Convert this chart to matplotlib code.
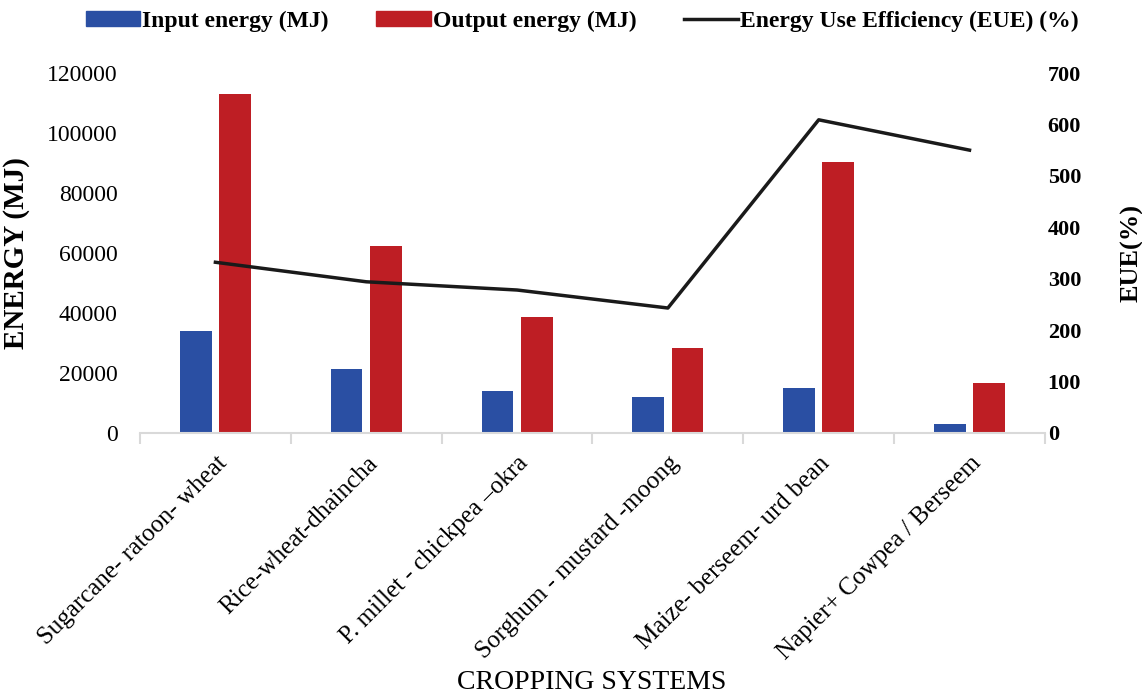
import matplotlib
matplotlib.use("Agg")
import matplotlib.pyplot as plt
import numpy as np
from matplotlib.patches import Patch
from matplotlib.lines import Line2D

# data
systems = ["Sugarcane- ratoon- wheat", "Rice-wheat-dhaincha", "P. millet - chickpea \u2013okra",
           "Sorghum - mustard -moong", "Maize- berseem- urd bean", "Napier+ Cowpea / Berseem"]
input_energy = [34000, 21300, 14000, 12000, 15000, 3000]
output_energy = [113000, 62300, 38700, 28300, 90300, 16700]
eue = [332, 294, 278, 243, 609, 550]

plt.rcParams['font.family'] = ['Liberation Serif', 'DejaVu Serif']

blue = "#2a4fa3"
red = "#be1e24"

fig = plt.figure(figsize=(11.42, 6.98), dpi=100)
ax = fig.add_axes([0.1226, 0.3797, 0.7924, 0.5157])
x = np.arange(len(systems))
w = 0.21
ax.bar(x - 0.13, input_energy, w, color=blue)
ax.bar(x + 0.13, output_energy, w, color=red)
ax.set_xlim(-0.5, len(systems) - 0.5)
ax.set_ylim(0, 120000)
ax.set_yticks(range(0, 120001, 20000))
ax.tick_params(axis='y', length=0, labelsize=17, pad=16)

# category labels, ticks between categories
ax.set_xticks(x)
ax.set_xticklabels(systems, rotation=45, ha='right', rotation_mode='anchor', fontsize=18)
ax.tick_params(axis='x', which='major', length=0, pad=14)
ax.set_xticks(np.arange(-0.5, len(systems)), minor=True)
ax.tick_params(axis='x', which='minor', length=8, color='#d9d9d9', width=1.5)

for s in ['top', 'left', 'right']:
    ax.spines[s].set_visible(False)
ax.spines['bottom'].set_color('#d9d9d9')
ax.spines['bottom'].set_linewidth(1.5)

ax.set_ylabel("ENERGY (MJ)", fontsize=21, fontweight='bold', labelpad=12)
fig.text(0.518, 0.005, "CROPPING SYSTEMS", fontsize=20, ha='center', va='bottom')

ax2 = ax.twinx()
ax2.plot(x, eue, color='#1a1a1a', linewidth=2.5)
ax2.set_ylim(0, 700)
ax2.set_yticks(range(0, 701, 100))
ax2.tick_params(axis='y', length=0, labelsize=16, pad=2)
for lab in ax2.get_yticklabels():
    lab.set_fontweight('bold')
for s in ['top', 'left', 'right', 'bottom']:
    ax2.spines[s].set_visible(False)
ax2.set_ylabel("EUE(%)", fontsize=19, fontweight='bold', labelpad=28)

handles = [Patch(color=blue), Patch(color=red), Line2D([0], [0], color='#1a1a1a', linewidth=2.5)]
labels = ["Input energy (MJ)", "Output energy (MJ)", "Energy Use Efficiency (EUE) (%)"]
fig.legend(handles, labels, loc='upper center', bbox_to_anchor=(0.51, 1.015), ncol=3, frameon=False,
           prop={'weight': 'bold', 'size': 17}, handlelength=2.3, handleheight=0.6,
           columnspacing=2.0, handletextpad=0.1)

fig.savefig("out.png", dpi=100)
